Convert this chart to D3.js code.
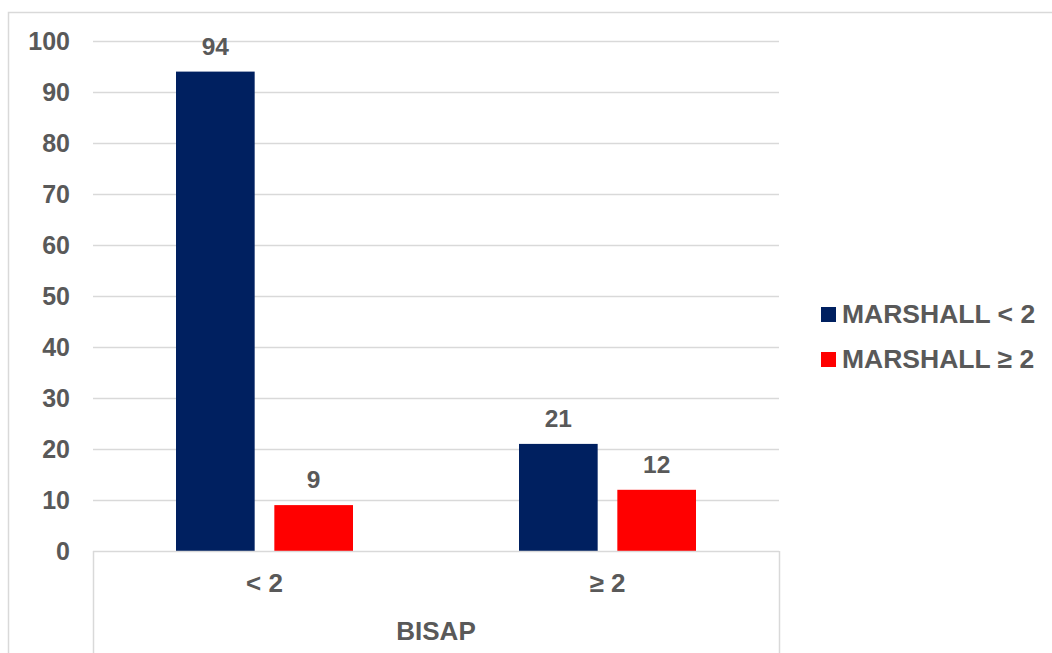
<!DOCTYPE html>
<html>
<head>
<meta charset="utf-8">
<script src="https://cdn.jsdelivr.net/npm/d3@7"></script>
<style>
  html, body { margin: 0; padding: 0; background: #fff; }
  svg { display: block; }
  text { font-family: "Liberation Sans", Arial, sans-serif; font-weight: bold; fill: #595959; }
</style>
</head>
<body>
<svg id="chart" width="1052" height="653"></svg>
<script>
// Groups on the category axis (BISAP score)
const categories = ["< 2", "≥ 2"];
// Series (Marshall score)
const seriesNames = ["MARSHALL < 2", "MARSHALL ≥ 2"];
const seriesColors = ["#002060", "#FF0000"];
// Counts per BISAP group, one array per Marshall series
const marshallLow = [94, 21];
const marshallHigh = [9, 12];
const seriesValues = [marshallLow, marshallHigh];
const yTicks = [0, 10, 20, 30, 40, 50, 60, 70, 80, 90, 100];
const axisTitle = "BISAP";

const svg = d3.select("#chart");
const plot = { left: 93, right: 779, top: 41, bottom: 551 };

// Outer chart frame
svg.append("rect")
  .attr("x", 8.5).attr("y", 12.5)
  .attr("width", 1100).attr("height", 700)
  .attr("fill", "none").attr("stroke", "#d9d9d9").attr("stroke-width", 1.5);

const y = d3.scaleLinear().domain([0, 100]).range([plot.bottom, plot.top]);
const x0 = d3.scaleBand().domain(categories).range([plot.left, plot.right]);
const x1 = d3.scaleBand().domain(d3.range(seriesNames.length))
  .range([83, x0.bandwidth() - 83]).paddingInner(0.2);

// Gridlines
svg.append("g").selectAll("line").data(yTicks.filter(d => d > 0)).join("line")
  .attr("x1", plot.left).attr("x2", plot.right)
  .attr("y1", d => Math.round(y(d)) + 0.5).attr("y2", d => Math.round(y(d)) + 0.5)
  .attr("stroke", "#d9d9d9").attr("stroke-width", 1.5);

// Y tick labels
svg.append("g").selectAll("text").data(yTicks).join("text")
  .attr("x", 70).attr("y", d => y(d))
  .attr("dy", "0.35em")
  .attr("text-anchor", "end")
  .attr("font-size", 25)
  .text(d => d);

// Bars and value labels
const groups = svg.append("g").selectAll("g").data(categories).join("g")
  .attr("transform", d => `translate(${x0(d)},0)`);

groups.selectAll("rect")
  .data((d, i) => seriesValues.map((vals, s) => ({ s, v: vals[i] })))
  .join("rect")
  .attr("x", d => x1(d.s))
  .attr("width", x1.bandwidth())
  .attr("y", d => y(d.v))
  .attr("height", d => y(0) - y(d.v))
  .attr("fill", d => seriesColors[d.s]);

groups.selectAll("text.val")
  .data((d, i) => seriesValues.map((vals, s) => ({ s, v: vals[i] })))
  .join("text")
  .attr("class", "val")
  .attr("x", d => x1(d.s) + x1.bandwidth() / 2)
  .attr("y", d => y(d.v) - 17)
  .attr("text-anchor", "middle")
  .attr("font-size", 24.5)
  .text(d => d.v);

// Category axis: baseline, outer group boundaries, labels
const axis = svg.append("g").attr("stroke", "#d9d9d9").attr("stroke-width", 1.5);
axis.append("line")
  .attr("x1", plot.left).attr("x2", plot.right)
  .attr("y1", y(0) + 0.5).attr("y2", y(0) + 0.5);
axis.selectAll("line.edge").data([plot.left, plot.right]).join("line")
  .attr("class", "edge")
  .attr("x1", d => d + 0.5).attr("x2", d => d + 0.5)
  .attr("y1", y(0)).attr("y2", 660);

svg.append("g").selectAll("text").data(categories).join("text")
  .attr("x", d => x0(d) + x0.bandwidth() / 2)
  .attr("y", 592)
  .attr("text-anchor", "middle")
  .attr("font-size", 26)
  .text(d => d);

svg.append("text")
  .attr("x", (plot.left + plot.right) / 2)
  .attr("y", 640)
  .attr("text-anchor", "middle")
  .attr("font-size", 26)
  .text(axisTitle);

// Legend
const legend = svg.append("g").selectAll("g").data(seriesNames).join("g")
  .attr("transform", (d, i) => `translate(821,${307 + i * 45})`);
legend.append("rect")
  .attr("width", 15).attr("height", 15)
  .attr("fill", (d, i) => seriesColors[i]);
legend.append("text")
  .attr("x", 21).attr("y", 16)
  .attr("font-size", 26.5)
  .text(d => d);
</script>
</body>
</html>
